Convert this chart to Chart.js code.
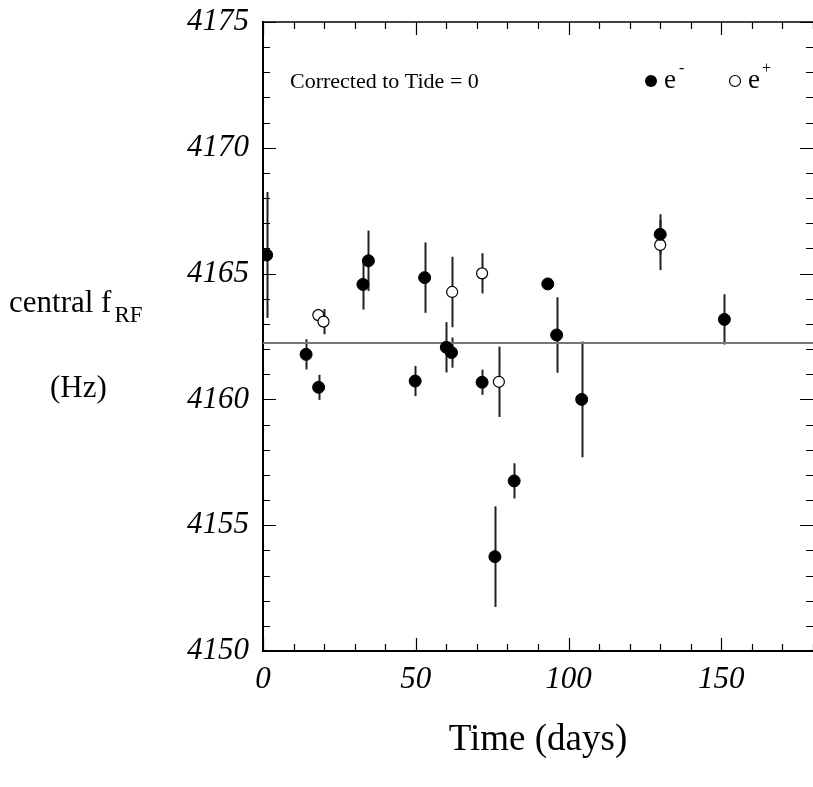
<!DOCTYPE html>
<html>
<head>
<meta charset="utf-8">
<script src="https://cdn.jsdelivr.net/npm/chart.js@4.4.1/dist/chart.umd.min.js"></script>
<style>
  html, body { margin: 0; padding: 0; background: #fff; overflow: hidden; }
</style>
</head>
<body>
<canvas id="freqChart" width="813" height="787"></canvas>
<script>
// e- runs (filled circles)
const eMinusDays = [1.2, 14.1, 18.2, 32.7, 34.5, 49.8, 52.9, 60.0, 61.7, 71.7, 75.9, 82.2, 93.2, 96.1, 104.3, 130.0, 151.0];
const eMinusFreq = [4165.74, 4161.79, 4160.48, 4164.57, 4165.51, 4160.73, 4164.84, 4162.07, 4161.86, 4160.68, 4153.75, 4156.76, 4164.59, 4162.56, 4160.0, 4166.56, 4163.18];
const eMinusErr  = [2.5, 0.6, 0.5, 1.0, 1.2, 0.6, 1.4, 1.0, 0.6, 0.5, 2.0, 0.7, 0.2, 1.5, 2.3, 0.8, 1.0];

// e+ runs (open circles)
const ePlusDays = [18.1, 19.8, 61.9, 71.7, 77.2, 130.0];
const ePlusFreq = [4163.35, 4163.09, 4164.27, 4165.01, 4160.70, 4166.14];
const ePlusErr  = [0.25, 0.5, 1.4, 0.8, 1.4, 1.0];

const meanFreq = 4162.24;
const xTicks = [0, 50, 100, 150];
const yTicks = [4150, 4155, 4160, 4165, 4170, 4175];

const serif = '"Liberation Serif", "Times New Roman", serif';

function toPoints(xs, ys) {
    return xs.map((x, i) => ({ x: x, y: ys[i] }));
}

// vertical error bars, drawn under the markers
const errorBars = {
    id: 'errorBars',
    beforeDatasetsDraw(chart) {
        const ctx = chart.ctx;
        const xs = chart.scales.x, ys = chart.scales.y;
        chart.data.datasets.forEach(ds => {
            if (!ds.errors) return;
            ctx.save();
            ctx.strokeStyle = '#222';
            ctx.lineWidth = 2;
            ds.data.forEach((p, i) => {
                const px = Math.round(xs.getPixelForValue(p.x)) + 0.5;
                ctx.beginPath();
                ctx.moveTo(px, ys.getPixelForValue(p.y + ds.errors[i]));
                ctx.lineTo(px, ys.getPixelForValue(p.y - ds.errors[i]));
                ctx.stroke();
            });
            ctx.restore();
        });
    }
};

// inward ticks on all four sides, top frame line, texts
const frame = {
    id: 'frame',
    afterDraw(chart) {
        const ctx = chart.ctx;
        const a = chart.chartArea;
        const xs = chart.scales.x, ys = chart.scales.y;
        ctx.save();
        ctx.strokeStyle = '#000';
        ctx.lineWidth = 1.5;
        ctx.beginPath();
        ctx.moveTo(a.left, a.top);
        ctx.lineTo(a.right, a.top);
        ctx.stroke();

        ctx.lineWidth = 1.2;
        for (let v = 0; v <= 180; v += 10) {
            const px = Math.round(xs.getPixelForValue(v)) + 0.5;
            const len = v % 50 === 0 ? 13 : 7;
            ctx.beginPath();
            ctx.moveTo(px, a.bottom); ctx.lineTo(px, a.bottom - len);
            ctx.moveTo(px, a.top); ctx.lineTo(px, a.top + len);
            ctx.stroke();
        }
        for (let v = 4150; v <= 4175; v += 1) {
            const py = Math.round(ys.getPixelForValue(v)) + 0.5;
            const len = v % 5 === 0 ? 13 : 7;
            ctx.beginPath();
            ctx.moveTo(a.left, py); ctx.lineTo(a.left + len, py);
            ctx.moveTo(a.right, py); ctx.lineTo(a.right - len, py);
            ctx.stroke();
        }

        ctx.fillStyle = '#000';
        ctx.textBaseline = 'alphabetic';
        ctx.textAlign = 'left';

        // y axis title
        ctx.font = '31px ' + serif;
        ctx.fillText('central f', 9, 312);
        let w = ctx.measureText('central f').width;
        ctx.font = '23px ' + serif;
        ctx.fillText('RF', 9 + w + 3, 322);
        ctx.font = '31px ' + serif;
        ctx.fillText('(Hz)', 50, 397);

        // annotation and legend
        ctx.font = '22px ' + serif;
        ctx.fillText('Corrected to Tide = 0', 290, 88);

        ctx.beginPath();
        ctx.arc(651, 81, 6, 0, Math.PI * 2);
        ctx.fill();
        ctx.font = '27px ' + serif;
        ctx.fillText('e', 664, 88);
        ctx.font = '16px ' + serif;
        ctx.fillText('-', 679, 73);

        ctx.beginPath();
        ctx.lineWidth = 1.2;
        ctx.arc(735, 81, 5.5, 0, Math.PI * 2);
        ctx.stroke();
        ctx.font = '27px ' + serif;
        ctx.fillText('e', 748, 88);
        ctx.font = '16px ' + serif;
        ctx.fillText('+', 762, 73);
        ctx.restore();
    }
};

const freqCtx = document.getElementById('freqChart').getContext('2d');
const freqChart = new Chart(freqCtx, {
    data: {
        datasets: [{
            type: 'line',
            data: [{ x: 0, y: meanFreq }, { x: 180, y: meanFreq }],
            borderColor: '#777',
            borderWidth: 2,
            pointRadius: 0,
            order: 3
        }, {
            type: 'scatter',
            label: 'e-',
            data: toPoints(eMinusDays, eMinusFreq),
            errors: eMinusErr,
            backgroundColor: '#000',
            borderColor: '#000',
            borderWidth: 1,
            pointRadius: 6,
            order: 1
        }, {
            type: 'scatter',
            label: 'e+',
            data: toPoints(ePlusDays, ePlusFreq),
            errors: ePlusErr,
            backgroundColor: '#fff',
            borderColor: '#000',
            borderWidth: 1.2,
            pointRadius: 5.5,
            order: 2
        }]
    },
    options: {
        responsive: false,
        animation: false,
        layout: { autoPadding: false, padding: { top: 22, left: 0, right: 0, bottom: 0 } },
        plugins: {
            legend: { display: false },
            tooltip: { enabled: false }
        },
        scales: {
            x: {
                type: 'linear',
                min: 0,
                max: 180,
                afterBuildTicks: s => { s.ticks = xTicks.map(v => ({ value: v })); },
                afterFit: s => { s.height = 136; s.paddingLeft = 0; s.paddingRight = 0; },
                grid: { display: false, drawTicks: false },
                border: { display: true, color: '#000', width: 2 },
                ticks: {
                    color: '#000',
                    padding: 10,
                    maxRotation: 0,
                    font: { family: serif, style: 'italic', size: 31 },
                    callback: v => String(v)
                },
                title: {
                    display: true,
                    text: 'Time (days)',
                    color: '#000',
                    font: { family: serif, size: 37 },
                    padding: { top: 0, bottom: 25 }
                }
            },
            y: {
                type: 'linear',
                min: 4150,
                max: 4175,
                afterBuildTicks: s => { s.ticks = yTicks.map(v => ({ value: v })); },
                afterFit: s => { s.width = 263; s.paddingTop = 0; s.paddingBottom = 0; },
                grid: { display: false, drawTicks: false },
                border: { display: true, color: '#000', width: 2 },
                ticks: {
                    color: '#000',
                    padding: 14,
                    font: { family: serif, style: 'italic', size: 31 },
                    callback: v => String(v)
                }
            }
        }
    },
    plugins: [errorBars, frame]
});
</script>
</body>
</html>
